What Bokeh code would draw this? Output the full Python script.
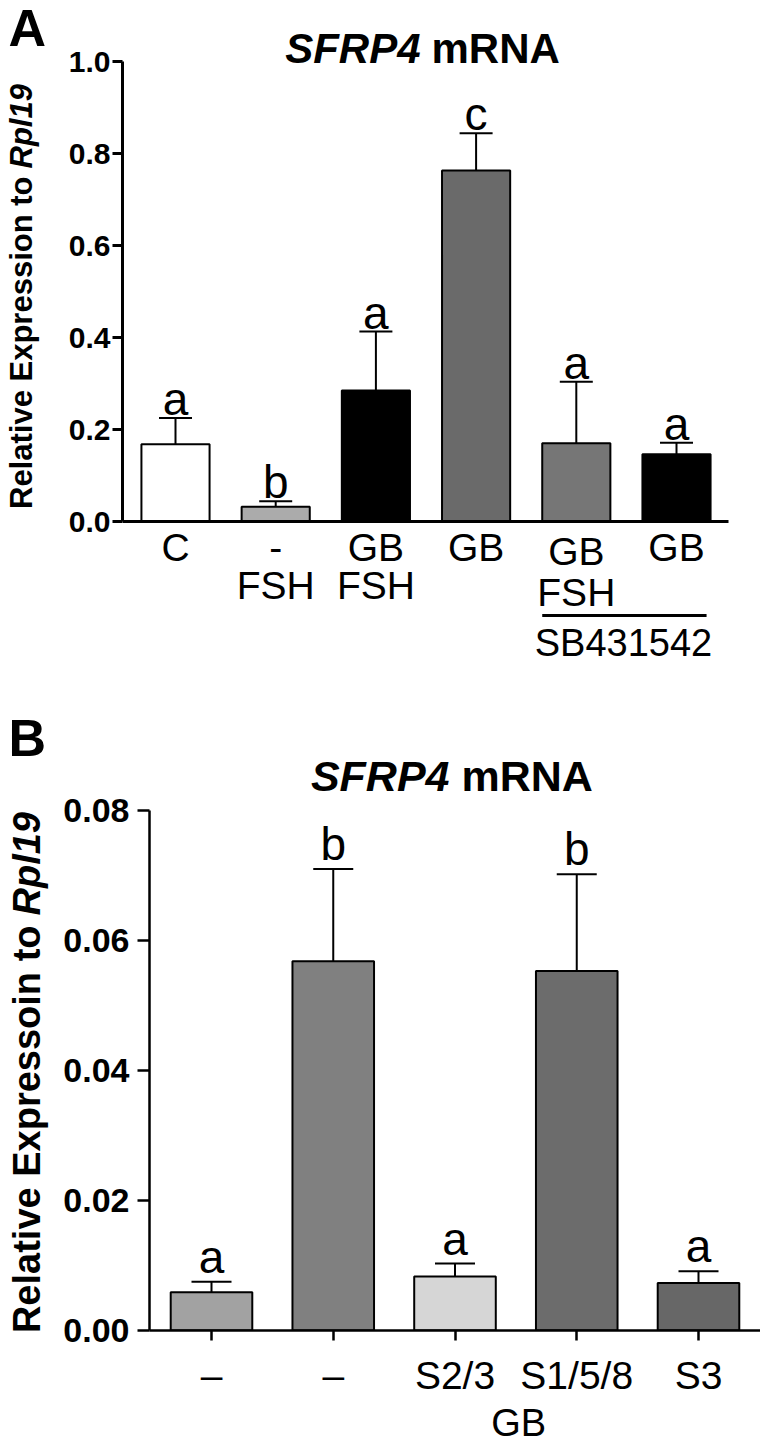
from bokeh.plotting import figure
from bokeh.models import (Range1d, FixedTicker, NumeralTickFormatter, Label, Arrow,
                          ColumnDataSource, Whisker, TeeHead)
from bokeh.layouts import column, row
from bokeh.embed import file_html
from bokeh.resources import INLINE
from bokeh.core.properties import value
import math

FONT = "Liberation Sans"

# ---------------- data: panel A ----------------
a_top_labels = ["C", "-", "GB", "GB", "GB", "GB"]
a_bottom_labels = ["", "FSH", "FSH", "", "FSH", ""]
a_means = [0.168, 0.032, 0.285, 0.763, 0.170, 0.146]
a_sem = [0.057, 0.012, 0.128, 0.081, 0.134, 0.025]
a_letters = ["a", "b", "a", "c", "a", "a"]
a_ticks = [0.0, 0.2, 0.4, 0.6, 0.8, 1.0]
a_group = "SB431542"

# ---------------- data: panel B ----------------
b_labels = ["\u2013", "\u2013", "S2/3", "S1/5/8", "S3"]
b_means = [0.0059, 0.0568, 0.0083, 0.0553, 0.0073]
b_sem = [0.0016, 0.0142, 0.0020, 0.0149, 0.0018]
b_letters = ["a", "b", "a", "b", "a"]
b_ticks = [0.0, 0.02, 0.04, 0.06, 0.08]
b_group = "GB"

# ---------------- styles ----------------
a_colors = ["#ffffff", "#ababab", "#000000", "#6a6a6a", "#767676", "#000000"]
b_colors = ["#a2a2a2", "#808080", "#d6d6d6", "#6c6c6c", "#676767"]


def style_fig(p):
    p.background_fill_color = "white"
    p.border_fill_color = "white"
    p.outline_line_color = None
    p.grid.visible = False
    p.frame_align = False


def lab(p, side=None, **kw):
    kw.setdefault("text_font", FONT)
    kw.setdefault("text_color", "black")
    kw.setdefault("text_baseline", "middle")
    kw.setdefault("text_align", "center")
    if side is None:
        p.add_layout(Label(**kw))
    else:
        p.add_layout(Label(**kw), side)


def text_fig(w, h):
    f = figure(width=w, height=h, x_range=Range1d(0, w), y_range=Range1d(0, h),
               x_axis_location=None, y_axis_location=None, min_border=0,
               toolbar_location=None, output_backend="svg")
    style_fig(f)
    return f


H_A = 672          # height of row A (page px)
H_B = 1443 - H_A   # height of row B

# ================= Panel A =================
LA_W = 60                      # left text strip width
A_W = 760 - LA_W
A_L, A_R, A_T, A_B = 62, 0, 0, 10
FR_L, FR_R, FR_T, FR_B = 122, 760, 0, H_A - A_B
PXA = 100.2                    # px per category
X0A = 175                      # page x of category 0
PYA = 460.0                    # px per unit
Y0A = 521                      # page y of value 0
XA0, XA1 = (FR_L - X0A) / PXA, (FR_R - X0A) / PXA
YA0, YA1 = -(FR_B - Y0A) / PYA, (Y0A - FR_T) / PYA

pA = figure(width=A_W, height=H_A, x_range=Range1d(XA0, XA1), y_range=Range1d(YA0, YA1),
            min_border_left=A_L, min_border_right=A_R, min_border_top=A_T,
            min_border_bottom=A_B, toolbar_location=None, output_backend="svg")
style_fig(pA)


def ax(px):
    return (px - X0A) / PXA


def ay(py):
    return (Y0A - py) / PYA


xa = list(range(len(a_means)))
a_upper = [m + s for m, s in zip(a_means, a_sem)]
srcA = ColumnDataSource(dict(x=xa, top=a_means, upper=a_upper,
                             ytxt=[u + 19.0 / PYA for u in a_upper],
                             color=a_colors, letter=a_letters))
pA.vbar(x="x", top="top", bottom=0, width=0.68, fill_color="color",
        line_color="black", line_width=2, source=srcA)
pA.add_layout(Whisker(source=srcA, base="x", upper="upper", lower="top",
                      dimension="height", line_width=2, line_color="black",
                      upper_head=TeeHead(size=33, line_width=2, line_color="black"),
                      lower_head=None))
pA.text(x="x", y="ytxt", text="letter", source=srcA, text_align="center",
        text_baseline="middle", text_font=value(FONT),
        text_font_size="46px", text_color="black")

yaxA = pA.yaxis[0]
yaxA.bounds = (0, 1.0)
yaxA.ticker = FixedTicker(ticks=a_ticks)
yaxA.formatter = NumeralTickFormatter(format="0.0")
yaxA.major_label_text_font = FONT
yaxA.major_label_text_font_style = "bold"
yaxA.major_label_text_font_size = "30px"
yaxA.major_label_text_color = "black"
yaxA.major_tick_out = 10
yaxA.major_tick_in = 0
yaxA.minor_tick_out = 0
yaxA.minor_tick_in = 0
yaxA.axis_line_width = 3
yaxA.major_tick_line_width = 3
yaxA.major_label_standoff = 2

xaxA = pA.xaxis[0]
xaxA.fixed_location = 0
xaxA.bounds = (XA0, ax(728))
xaxA.ticker = FixedTicker(ticks=[])
xaxA.major_label_text_font_size = "0px"
xaxA.major_label_standoff = 0
xaxA.axis_line_width = 3
xaxA.major_tick_out = 0
xaxA.major_tick_in = 0
xaxA.minor_tick_out = 0
xaxA.minor_tick_in = 0

# x labels (two lines)
for i, (t, b) in enumerate(zip(a_top_labels, a_bottom_labels)):
    dy = 4 if i == 4 else 0
    lab(pA, x=i, y=ay(547 + dy), text=t, text_font_size="39px")
    if b:
        dy2 = 7 if i == 4 else 0
        lab(pA, x=i, y=ay(585 + dy2), text=b, text_font_size="39px")

# SB431542 bar
pA.add_layout(Arrow(x_start=4 - 0.34, y_start=ay(615), x_end=5 + 0.3,
                    y_end=ay(615), end=None, start=None, line_width=3,
                    line_color="black"))
lab(pA, x=ax(623), y=ay(642), text=a_group, text_font_size="38px")

# title
jA = ax(420)
lab(pA, x=jA, y=ay(48), text="SFRP4", text_align="right",
    text_font_style="bold italic", text_font_size="42px")
lab(pA, x=jA, y=ay(48), x_offset=11, text="mRNA", text_align="left",
    text_font_style="bold", text_font_size="42px")

# left strip A: panel letter + y title
tA = text_fig(LA_W, H_A)
lab(tA, x=8, y=H_A - 27, text="A", text_align="left",
    text_font_style="bold", text_font_size="52px")
lab(tA, x=21, y=H_A - 176, text="Relative Expression to", angle=math.pi / 2,
    text_align="right", text_font_style="bold", text_font_size="31px")
lab(tA, x=21, y=H_A - 176 + 8, text="Rpl19", angle=math.pi / 2,
    text_align="left", text_font_style="bold italic", text_font_size="31px")

# ================= Panel B =================
LB_W = 54
B_W = 760 - LB_W
B_L, B_R = 149 - LB_W, 0
B_T = 810 - H_A
B_B = 1443 - 1330
PXB = 121.75
X0B = 211
XB0, XB1 = (149 - X0B) / PXB, (760 - X0B) / PXB
FH_B = 1330 - 810
pB = figure(width=B_W, height=H_B, x_range=Range1d(XB0, XB1), y_range=Range1d(0, 0.08),
            min_border_left=B_L, min_border_right=B_R, min_border_top=B_T,
            min_border_bottom=B_B, toolbar_location=None, output_backend="svg")
style_fig(pB)


def bx(px):
    return (px - X0B) / PXB


def by(py):
    return (1330 - py) * 0.08 / FH_B


xb = list(range(len(b_means)))
b_upper = [m + s for m, s in zip(b_means, b_sem)]
srcB = ColumnDataSource(dict(x=xb, top=b_means, upper=b_upper,
                             ytxt=[u + 25.0 * 0.08 / FH_B for u in b_upper],
                             color=b_colors, letter=b_letters))
pB.vbar(x="x", top="top", bottom=0, width=0.67, fill_color="color",
        line_color="black", line_width=2, source=srcB)
pB.add_layout(Whisker(source=srcB, base="x", upper="upper", lower="top",
                      dimension="height", line_width=2, line_color="black",
                      upper_head=TeeHead(size=40, line_width=2, line_color="black"),
                      lower_head=None))
pB.text(x="x", y="ytxt", text="letter", source=srcB, text_align="center",
        text_baseline="middle", text_font=value(FONT),
        text_font_size="46px", text_color="black")

yaxB = pB.yaxis[0]
yaxB.ticker = FixedTicker(ticks=b_ticks)
yaxB.formatter = NumeralTickFormatter(format="0.00")
yaxB.major_label_text_font = FONT
yaxB.major_label_text_font_style = "bold"
yaxB.major_label_text_font_size = "34px"
yaxB.major_label_text_color = "black"
yaxB.major_tick_out = 12
yaxB.major_tick_in = 0
yaxB.minor_tick_out = 0
yaxB.minor_tick_in = 0
yaxB.axis_line_width = 2.5
yaxB.major_tick_line_width = 2.5
yaxB.major_label_standoff = 8

xaxB = pB.xaxis[0]
xaxB.ticker = FixedTicker(ticks=xb)
xaxB.major_label_overrides = {i: s for i, s in enumerate(b_labels)}
xaxB.major_label_text_font = FONT
xaxB.major_label_text_font_size = "39px"
xaxB.major_label_text_color = "black"
xaxB.major_tick_out = 10
xaxB.major_tick_in = 0
xaxB.minor_tick_out = 0
xaxB.minor_tick_in = 0
xaxB.axis_line_width = 2.5
xaxB.major_tick_line_width = 2.5
xaxB.major_label_standoff = 13

# GB bracket
yb_low, yb_high = by(1398), by(1378)
xl, xr = 1 - 0.335, 4 + 0.38
for (x0, y0, x1, y1) in [(xl, yb_low, xr, yb_low), (xl, yb_low, xl, yb_high),
                         (xr, yb_low, xr, yb_high)]:
    pB.add_layout(Arrow(x_start=x0, y_start=y0, x_end=x1, y_end=y1, start=None, end=None,
                        line_width=2.5, line_color="black"), "below")
lab(pB, "below", x=(xl + xr) / 2, y=by(1422), text=b_group, text_font_size="38px")

# title
jB = bx(449)
lab(pB, "above", x=jB, y=by(775), text="SFRP4", text_align="right",
    text_font_style="bold italic", text_font_size="43px")
lab(pB, "above", x=jB, y=by(775), x_offset=12, text="mRNA", text_align="left",
    text_font_style="bold", text_font_size="43px")

# left strip B
tB = text_fig(LB_W, H_B)
lab(tB, x=8, y=H_B - (737 - H_A), text="B", text_align="left",
    text_font_style="bold", text_font_size="52px")
lab(tB, x=26, y=H_B - (925 - H_A), text="Relative Expressoin to", angle=math.pi / 2,
    text_align="right", text_font_style="bold", text_font_size="38px")
lab(tB, x=26, y=H_B - (925 - H_A) + 10, text="Rpl19", angle=math.pi / 2,
    text_align="left", text_font_style="bold italic", text_font_size="38px")

layout = column(row(tA, pA, spacing=0), row(tB, pB, spacing=0), spacing=0)
open("out.html", "w").write(file_html(layout, INLINE))
